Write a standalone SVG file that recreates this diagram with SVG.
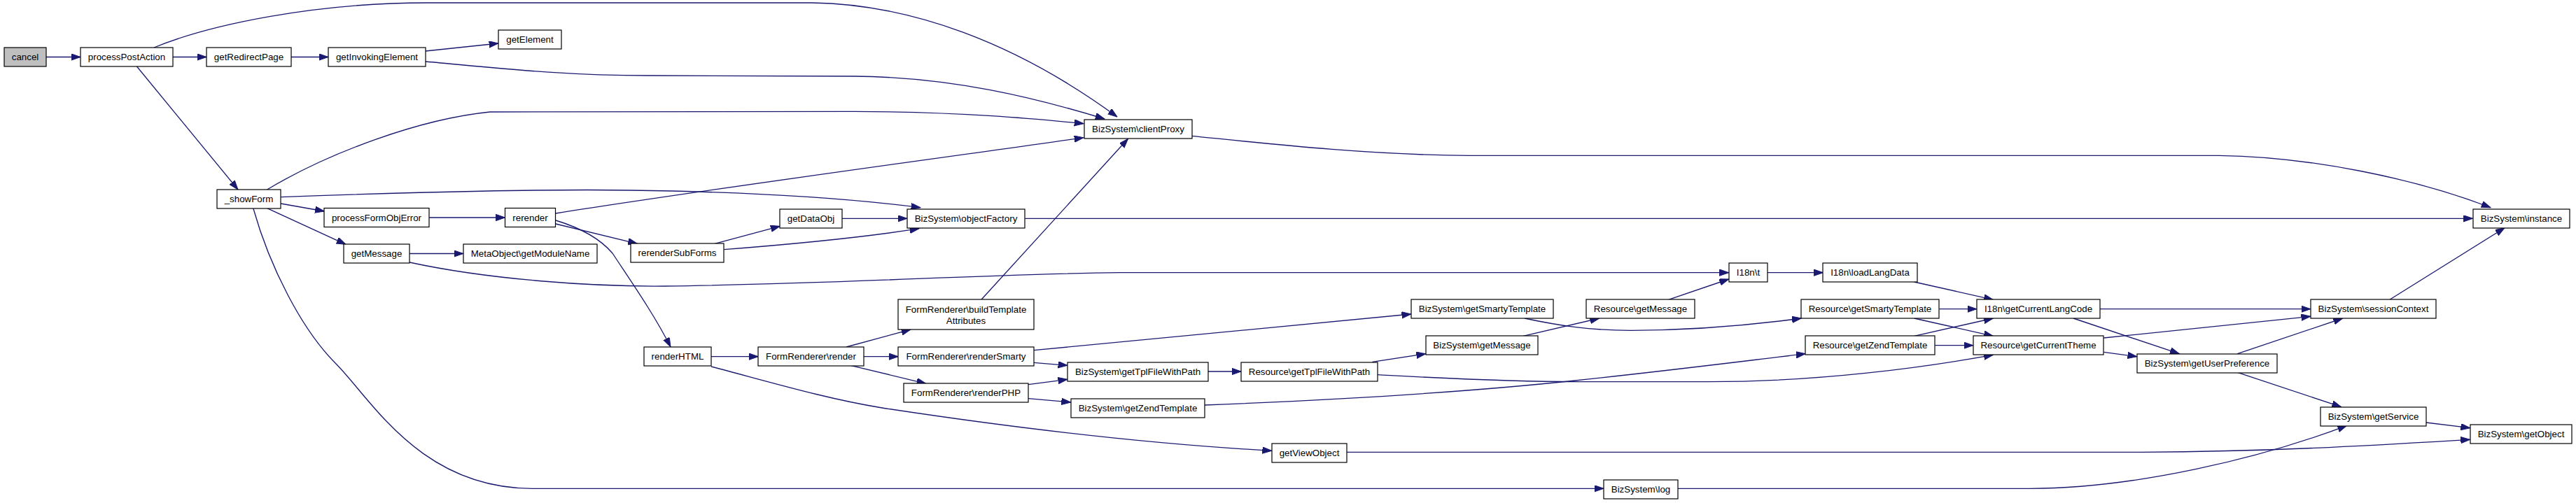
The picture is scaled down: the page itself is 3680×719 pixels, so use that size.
<svg xmlns="http://www.w3.org/2000/svg" width="3680" height="719" viewBox="0 0 3680 719">
<style>
.n rect{fill:#fff;stroke:#000;stroke-width:1.2}
.n text{font-family:"Liberation Sans",Arial,sans-serif;font-size:13.33px;text-anchor:middle;fill:#000}
.e path{fill:none;stroke:#191970;stroke-width:1.33;marker-end:url(#ah)}
</style>
<defs>
<marker id="ah" markerUnits="userSpaceOnUse" markerWidth="14" markerHeight="10" refX="13.3" refY="4.67" orient="auto">
<path d="M0,0 L13.3,4.67 L0,9.33 z" fill="#191970" stroke="#191970" stroke-width="1"/>
</marker>
</defs>
<rect x="0" y="0" width="3680" height="719" fill="#fff"/>
<g id="connectors" class="e">
<path d="M66,81.5 L115,81.5"/>
<path d="M247,81.5 L295,81.5"/>
<path d="M416,81.5 L469,81.5"/>
<path d="M608,73 L712,62"/>
<path d="M608,88 C700,96 800,108 926,108 L1220,109 C1360,110 1480,140 1578,170"/>
<path d="M220,68 C300,35 450,4 610,4 L1160,4 C1300,6 1450,60 1596,167"/>
<path d="M195.5,95 L340,271"/>
<path d="M381.6,271 C470,218 600,170 700,160 L1220,159.3 C1380,160 1480,170 1548,176.7"/>
<path d="M401.3,281.7 C600,274 800,270 900,272 C1050,274 1200,282 1315,296.7"/>
<path d="M401.3,291 L463.4,302"/>
<path d="M381.6,297.7 L494,349.3"/>
<path d="M361.8,297.7 C385,380 430,470 480,520 S600,698 760,698.3 L2291,698.3"/>
<path d="M613.3,311 L721.5,311"/>
<path d="M793.9,305 C1000,272 1300,232 1548,196.7"/>
<path d="M793.9,320 L910.5,348.3"/>
<path d="M793.9,315 C830,326 858,342 875,362 C900,400 935,450 958,496"/>
<path d="M1021,348.3 L1114.2,323.3"/>
<path d="M1034.3,356.7 C1120,350 1230,340 1313,326.7"/>
<path d="M1203.1,312.3 L1295.9,312.3"/>
<path d="M1464.4,312.3 L3532.5,312.3"/>
<path d="M1702.4,194.3 C1780,202 1950,222 2100,222.3 L3170,222.3 C3300,224 3450,255 3558,296.7"/>
<path d="M585.2,362.5 L661.8,362.5"/>
<path d="M585.2,375 C700,400 850,410 950,409 C1200,406 1400,392 1600,389.7 L2469.7,389.7"/>
<path d="M2524.6,389.7 L2604.5,389.7"/>
<path d="M2734.6,403 L2847.3,428.3"/>
<path d="M2383.6,428.3 L2469.7,399"/>
<path d="M2176,480.3 L2284.7,455"/>
<path d="M1209,496 L1301,471"/>
<path d="M1233.8,509.7 L1283.3,509.7"/>
<path d="M1215,522.3 L1322.8,548.3"/>
<path d="M1401.9,428.3 L1611.5,198.3"/>
<path d="M1477,500.7 L2015.8,449"/>
<path d="M1477,518.3 L1524.9,522.3"/>
<path d="M1469,549.7 L1524.9,542.3"/>
<path d="M1469,569.7 L1529.6,575"/>
<path d="M1725.7,531 L1773.2,531"/>
<path d="M1960.5,517.3 L2036.8,505.7"/>
<path d="M1968,535.7 C2050,540 2150,545.7 2250,545.7 L2440,545.7 C2600,545.7 2750,525 2847.3,507.3"/>
<path d="M1721,579 C1900,572 2100,560 2250,544 C2400,528 2500,515 2579.2,505.7"/>
<path d="M2178,455 C2230,466 2270,472 2330,472.3 C2420,472 2500,465 2573.3,455"/>
<path d="M2770.6,441.7 L2823.9,441.7"/>
<path d="M2734.6,455 L2847.3,480.3"/>
<path d="M2734.6,480.3 L2847.3,455"/>
<path d="M2764.2,493.7 L2818.8,493.7"/>
<path d="M3000,441.7 L3300.8,441.7"/>
<path d="M2962,455 L3113.4,505.7"/>
<path d="M3005.4,483 L3300.8,452.3"/>
<path d="M3005.4,503.3 L3052.9,509.7"/>
<path d="M3196.4,505.7 L3346.7,455"/>
<path d="M3196.4,532.3 L3344.7,581.7"/>
<path d="M3413.9,428.3 L3578,325.7"/>
<path d="M3466,604 L3528.6,611.7"/>
<path d="M1924,646.3 L3060,646.3 C3250,645.5 3400,636 3528.6,628.3"/>
<path d="M2396.6,698.3 L2900,698.3 C3050,698 3230,655 3352.6,608.3"/>
<path d="M1016,509.7 L1083.3,509.7"/>
<path d="M1016,524 C1100,546 1180,570 1260,583 C1450,612 1650,635 1816.7,644.3"/>
</g>
<g id="cancel" class="n"><rect x="6" y="68" width="60" height="27" style="fill:#bfbfbf"/><text x="36" y="86.3">cancel</text></g>
<g id="processPostAction" class="n"><rect x="115" y="68" width="132" height="27"/><text x="181" y="86.3">processPostAction</text></g>
<g id="getRedirectPage" class="n"><rect x="295" y="68" width="121" height="27"/><text x="355.5" y="86.3">getRedirectPage</text></g>
<g id="getInvokingElement" class="n"><rect x="469" y="68" width="139" height="27"/><text x="538.5" y="86.3">getInvokingElement</text></g>
<g id="getElement" class="n"><rect x="712" y="43" width="90" height="27"/><text x="757" y="61.3">getElement</text></g>
<g id="showForm" class="n"><rect x="310" y="271" width="91" height="27"/><text x="355.5" y="289.3">_showForm</text></g>
<g id="processFormObjError" class="n"><rect x="463" y="297.5" width="150" height="27"/><text x="538" y="315.8">processFormObjError</text></g>
<g id="getMessage" class="n"><rect x="491" y="349" width="94" height="27"/><text x="538" y="367.3">getMessage</text></g>
<g id="getModuleName" class="n"><rect x="662" y="349" width="191" height="27"/><text x="757.5" y="367.3">MetaObject\getModuleName</text></g>
<g id="rerender" class="n"><rect x="721.5" y="297.5" width="72" height="27"/><text x="757.5" y="315.8">rerender</text></g>
<g id="rerenderSubForms" class="n"><rect x="901" y="348" width="133" height="27"/><text x="967.5" y="366.3">rerenderSubForms</text></g>
<g id="getDataObj" class="n"><rect x="1114" y="299" width="89" height="27"/><text x="1158.5" y="317.3">getDataObj</text></g>
<g id="renderHTML" class="n"><rect x="920" y="496" width="96" height="27"/><text x="968" y="514.3">renderHTML</text></g>
<g id="FormRenderer_render" class="n"><rect x="1083" y="496" width="151" height="27"/><text x="1158.5" y="514.3">FormRenderer\render</text></g>
<g id="clientProxy" class="n"><rect x="1549" y="171" width="154" height="27"/><text x="1626" y="189.3">BizSystem\clientProxy</text></g>
<g id="objectFactory" class="n"><rect x="1296" y="299" width="168" height="27"/><text x="1380" y="317.3">BizSystem\objectFactory</text></g>
<g id="buildTemplateAttributes" class="n"><rect x="1283" y="428" width="194" height="43"/><text x="1380" y="447">FormRenderer\buildTemplate</text><text x="1380" y="463">Attributes</text></g>
<g id="renderSmarty" class="n"><rect x="1283" y="496" width="194" height="27"/><text x="1380" y="514.3">FormRenderer\renderSmarty</text></g>
<g id="renderPHP" class="n"><rect x="1291" y="548" width="178" height="27"/><text x="1380" y="566.3">FormRenderer\renderPHP</text></g>
<g id="BizSystem_getTplFileWithPath" class="n"><rect x="1525" y="518" width="201" height="27"/><text x="1625.5" y="536.3">BizSystem\getTplFileWithPath</text></g>
<g id="BizSystem_getZendTemplate" class="n"><rect x="1530" y="570" width="191" height="27"/><text x="1625.5" y="588.3">BizSystem\getZendTemplate</text></g>
<g id="Resource_getTplFileWithPath" class="n"><rect x="1773" y="518" width="195" height="27"/><text x="1870.5" y="536.3">Resource\getTplFileWithPath</text></g>
<g id="getViewObject" class="n"><rect x="1817" y="634" width="107" height="27"/><text x="1870.5" y="652.3">getViewObject</text></g>
<g id="BizSystem_getSmartyTemplate" class="n"><rect x="2016" y="428" width="203" height="27"/><text x="2117.5" y="446.3">BizSystem\getSmartyTemplate</text></g>
<g id="BizSystem_getMessage" class="n"><rect x="2037" y="480" width="160" height="27"/><text x="2117" y="498.3">BizSystem\getMessage</text></g>
<g id="Resource_getMessage" class="n"><rect x="2266" y="428" width="155" height="27"/><text x="2343.5" y="446.3">Resource\getMessage</text></g>
<g id="BizSystem_log" class="n"><rect x="2291" y="686" width="106" height="27"/><text x="2344" y="704.3">BizSystem\log</text></g>
<g id="I18n_t" class="n"><rect x="2470" y="376" width="55" height="27"/><text x="2497.5" y="394.3">I18n\t</text></g>
<g id="I18n_loadLangData" class="n"><rect x="2604" y="376" width="135" height="27"/><text x="2671.5" y="394.3">I18n\loadLangData</text></g>
<g id="Resource_getSmartyTemplate" class="n"><rect x="2573" y="428" width="197" height="27"/><text x="2671.5" y="446.3">Resource\getSmartyTemplate</text></g>
<g id="I18n_getCurrentLangCode" class="n"><rect x="2824" y="428" width="176" height="27"/><text x="2912" y="446.3">I18n\getCurrentLangCode</text></g>
<g id="Resource_getZendTemplate" class="n"><rect x="2579" y="480" width="185" height="27"/><text x="2671.5" y="498.3">Resource\getZendTemplate</text></g>
<g id="Resource_getCurrentTheme" class="n"><rect x="2819" y="480" width="186" height="27"/><text x="2912" y="498.3">Resource\getCurrentTheme</text></g>
<g id="BizSystem_getUserPreference" class="n"><rect x="3053" y="506" width="200" height="27"/><text x="3153" y="524.3">BizSystem\getUserPreference</text></g>
<g id="BizSystem_sessionContext" class="n"><rect x="3301" y="428" width="179" height="27"/><text x="3390.5" y="446.3">BizSystem\sessionContext</text></g>
<g id="BizSystem_getService" class="n"><rect x="3315" y="582" width="151" height="27"/><text x="3390.5" y="600.3">BizSystem\getService</text></g>
<g id="BizSystem_getObject" class="n"><rect x="3529" y="607" width="145" height="27"/><text x="3601.5" y="625.3">BizSystem\getObject</text></g>
<g id="BizSystem_instance" class="n"><rect x="3533" y="299" width="138" height="27"/><text x="3602" y="317.3">BizSystem\instance</text></g>
</svg>
